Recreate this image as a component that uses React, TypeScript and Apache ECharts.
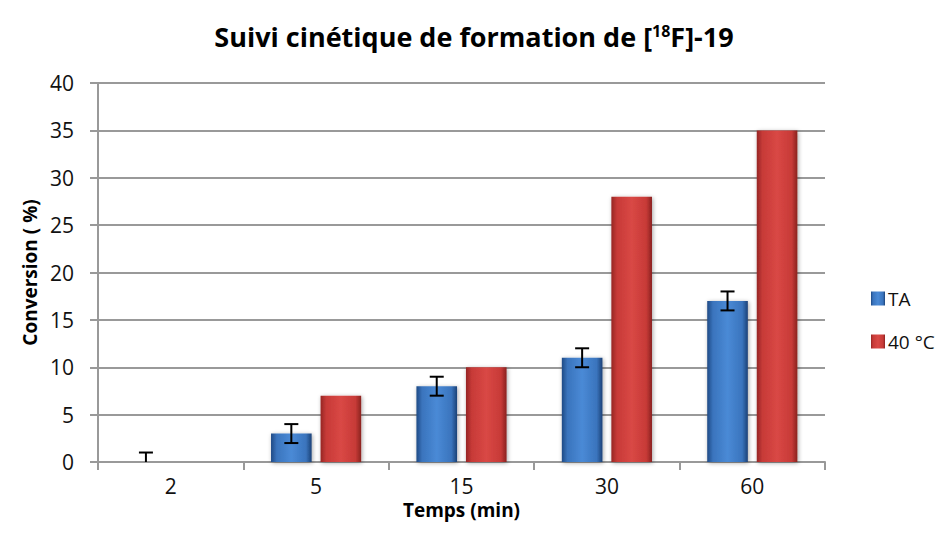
import React, { useEffect, useRef } from "react";
import * as echarts from "echarts";

// Reaction time points (min)
const categories = ["2", "5", "15", "30", "60"];
// Conversion (%) at room temperature and at 40 °C
const taValues = [0, 3, 8, 11, 17];
const hotValues = [0, 7, 10, 28, 35];
// Standard deviation for the room-temperature series
const taErrors = [1, 1, 1, 1, 1];
const yTicks = { min: 0, max: 40, interval: 5 };

const BAR_CATEGORY_GAP = 0.38;
const BAR_GAP = 0.22;

const bevel = (edge: string, mid: string, center: string, edge2: string) => ({
  type: "linear",
  x: 0,
  y: 0,
  x2: 1,
  y2: 0,
  colorStops: [
    { offset: 0, color: edge },
    { offset: 0.14, color: mid },
    { offset: 0.5, color: center },
    { offset: 0.86, color: mid },
    { offset: 1, color: edge2 },
  ],
});

export default function App() {
  const ref = useRef<HTMLDivElement>(null);

  useEffect(() => {
    if (!ref.current) return;
    const chart = echarts.init(ref.current, undefined, { renderer: "svg" });
    const font = "'Open Sans', Lato, sans-serif";

    const errorData = categories.map((_, i) => [
      i,
      Math.max(0, taValues[i] - taErrors[i]),
      taValues[i] + taErrors[i],
    ]);

    chart.setOption({
      animation: false,
      backgroundColor: "#ffffff",
      textStyle: { fontFamily: font },
      title: {
        text: "{t|Suivi cinétique de formation de [}{s|18}{t|F]-19}",
        left: "center",
        top: 18,
        textStyle: {
          rich: {
            t: { fontFamily: font, fontWeight: "bold", fontSize: 27, color: "#000" },
            s: {
              fontFamily: font,
              fontWeight: "bold",
              fontSize: 16,
              color: "#000",
              verticalAlign: "top",
              padding: [0, 0, 7, 0],
            },
          },
        },
      },
      legend: {
        orient: "vertical",
        left: 866,
        top: 284,
        itemWidth: 14,
        itemHeight: 14,
        itemGap: 24,
        itemStyle: { shadowBlur: 0, shadowOffsetX: 0, shadowOffsetY: 0 },
        icon: "rect",
        textStyle: { fontFamily: font, fontSize: 19, color: "#111", padding: [0, 0, 0, -2] },
        data: ["TA", "40 °C"],
      },
      grid: { left: 98, right: 123, top: 83, bottom: 87 },
      xAxis: {
        type: "category",
        data: categories,
        name: "Temps (min)",
        nameLocation: "middle",
        nameGap: 37,
        nameTextStyle: { fontFamily: font, fontWeight: "bold", fontSize: 19, color: "#000" },
        axisLine: { lineStyle: { color: "#999", width: 2 } },
        axisTick: { show: true, length: 8, lineStyle: { color: "#999", width: 2 } },
        axisLabel: { fontFamily: font, fontSize: 21, color: "#111", margin: 13 },
      },
      yAxis: {
        type: "value",
        min: yTicks.min,
        max: yTicks.max,
        interval: yTicks.interval,
        name: "Conversion ( %)",
        nameLocation: "middle",
        nameGap: 58,
        nameTextStyle: { fontFamily: font, fontWeight: "bold", fontSize: 19, color: "#000" },
        axisLine: { show: true, lineStyle: { color: "#999", width: 2 } },
        axisTick: { show: true, length: 8, lineStyle: { color: "#999", width: 2 } },
        axisLabel: { fontFamily: font, fontSize: 21, color: "#111", margin: 24 },
        splitLine: { lineStyle: { color: "#999", width: 2 } },
      },
      series: [
        {
          name: "TA",
          type: "bar",
          data: taValues,
          barCategoryGap: BAR_CATEGORY_GAP * 100 + "%",
          barGap: BAR_GAP * 100 + "%",
          itemStyle: {
            color: bevel("#1f4a85", "#3a74bd", "#4a8ad6", "#1c4277"),
            shadowColor: "rgba(0,0,0,0.35)",
            shadowBlur: 4,
            shadowOffsetX: 1,
            shadowOffsetY: 1,
          },
        },
        {
          name: "40 °C",
          type: "bar",
          data: hotValues,
          barCategoryGap: BAR_CATEGORY_GAP * 100 + "%",
          barGap: BAR_GAP * 100 + "%",
          itemStyle: {
            color: bevel("#962624", "#c73a37", "#d94845", "#8a2220"),
            shadowColor: "rgba(0,0,0,0.35)",
            shadowBlur: 4,
            shadowOffsetX: 1,
            shadowOffsetY: 1,
          },
        },
        {
          name: "errTA",
          type: "custom",
          z: 10,
          data: errorData,
          renderItem: (params: any, api: any) => {
            const idx = api.value(0);
            const low = api.value(1);
            const high = api.value(2);
            const band = api.size([1, 0])[0];
            const barW = (band * (1 - BAR_CATEGORY_GAP)) / (2 + BAR_GAP);
            const offset = -(barW + barW * BAR_GAP) / 2;
            const top = api.coord([idx, high]);
            const bot = api.coord([idx, low]);
            const x = top[0] + offset;
            const cap = 7;
            const style = { stroke: "#000", lineWidth: 2 };
            const children: any[] = [
              { type: "line", shape: { x1: x, y1: top[1], x2: x, y2: bot[1] }, style },
              { type: "line", shape: { x1: x - cap, y1: top[1], x2: x + cap, y2: top[1] }, style },
            ];
            if (low > 0) {
              children.push({
                type: "line",
                shape: { x1: x - cap, y1: bot[1], x2: x + cap, y2: bot[1] },
                style,
              });
            }
            return { type: "group", children };
          },
        },
      ],
    });

    return () => chart.dispose();
  }, []);

  return <div ref={ref} style={{ width: 948, height: 549, margin: -8 }} />;
}
